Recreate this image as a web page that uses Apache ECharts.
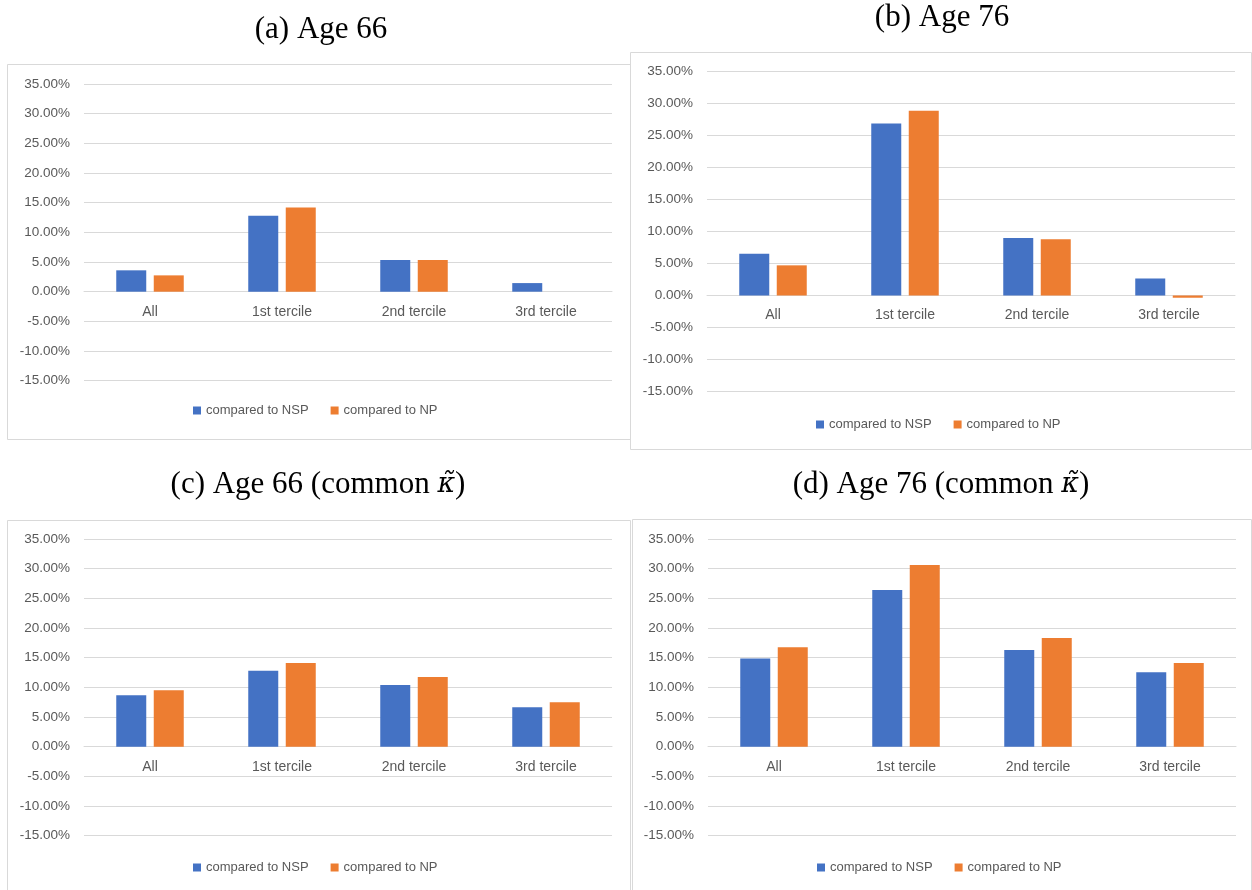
<!DOCTYPE html>
<html>
<head>
<meta charset="utf-8">
<script src="https://cdn.jsdelivr.net/npm/echarts@6/dist/echarts.min.js"></script>
<style>
html,body{margin:0;padding:0;background:#fff;}
#c{width:1252px;height:890px;}
</style>
</head>
<body>
<div id="c"></div>
<script>
// ---- data ----
var categories = ['All', '1st tercile', '2nd tercile', '3rd tercile'];
var seriesNames = ['compared to NSP', 'compared to NP'];
var yTicks = [-15, -10, -5, 0, 5, 10, 15, 20, 25, 30, 35];

var a_nsp = [3.6, 12.8, 5.35, 1.45];
var a_np  = [2.75, 14.2, 5.35, 0];
var b_nsp = [6.5, 26.8, 8.95, 2.65];
var b_np  = [4.7, 28.8, 8.75, -0.35];
var c_nsp = [8.65, 12.8, 10.4, 6.65];
var c_np  = [9.5, 14.1, 11.75, 7.5];
var d_nsp = [14.85, 26.4, 16.3, 12.55];
var d_np  = [16.75, 30.6, 18.3, 14.1];

var titles = ['(a) Age 66', '(b) Age 76', '(c) Age 66 (common {k|κ̃})', '(d) Age 76 (common {k|κ̃})'];

// ---- layout (styling only) ----
var panels = [
  {grid:{left:84,  top:84,  width:528, height:296.7}, title:{x:321, y:30},  legend:{x:193, y:411}, box:{x:7,   y:64,  w:623, h:375}, nsp:a_nsp, np:a_np},
  {grid:{left:707, top:71,  width:528, height:320.7}, title:{x:942, y:18},  legend:{x:816, y:425}, box:{x:630, y:52,  w:621, h:397}, nsp:b_nsp, np:b_np},
  {grid:{left:84,  top:539, width:528, height:296.7}, title:{x:318, y:485}, legend:{x:193, y:868}, box:{x:7,   y:520, w:623, h:380}, nsp:c_nsp, np:c_np},
  {grid:{left:708, top:539, width:528, height:296.7}, title:{x:941, y:485}, legend:{x:817, y:868}, box:{x:632, y:519, w:619, h:380}, nsp:d_nsp, np:d_np}
];

var BLUE = '#4472C4', ORANGE = '#ED7D31', TXT = '#595959', GRID = '#d9d9d9';
var font = 'Liberation Sans, Arial, sans-serif';
var yMin = yTicks[0], yMax = yTicks[yTicks.length - 1];

var option = {
  animation: false,
  backgroundColor: '#fff',
  color: [BLUE, ORANGE],
  title: [], grid: [], xAxis: [], yAxis: [], legend: [], series: [], graphic: []
};

panels.forEach(function (p, i) {
  option.title.push({
    text: titles[i],
    left: p.title.x, top: p.title.y,
    textAlign: 'center', textVerticalAlign: 'middle',
    padding: 0,
    textStyle: {
      fontFamily: 'Liberation Serif, Times New Roman, serif',
      fontSize: 31, fontWeight: 'normal', color: '#000',
      rich: {k: {fontFamily: 'DejaVu Serif, serif', fontSize: 27, fontStyle: 'italic', color: '#000'}}
    }
  });
  option.grid.push({left: p.grid.left, top: p.grid.top, width: p.grid.width, height: p.grid.height, containLabel: false});
  // place the category axis (line + labels) on the zero value of the y axis
  var zeroOffset = -p.grid.height * (0 - yMin) / (yMax - yMin);
  option.xAxis.push({
    type: 'category', gridIndex: i, data: categories,
    position: 'bottom', offset: zeroOffset,
    axisLine: {show: true, onZero: false, lineStyle: {color: GRID, width: 1}},
    axisTick: {show: false},
    axisLabel: {color: TXT, fontSize: 14, fontFamily: font, margin: 13},
    splitLine: {show: false}
  });
  option.yAxis.push({
    type: 'value', gridIndex: i,
    min: yMin, max: yMax, interval: 5,
    axisLine: {show: false}, axisTick: {show: false},
    axisLabel: {color: TXT, fontSize: 13.5, fontFamily: font, margin: 14,
      formatter: function (v) { return v.toFixed(2) + '%'; }},
    splitLine: {show: true, lineStyle: {color: GRID, width: 1}}
  });
  option.legend.push({
    data: seriesNames,
    left: p.legend.x, top: p.legend.y - 7,
    icon: 'rect', itemWidth: 8, itemHeight: 8, itemGap: 22,
    padding: 0,
    textStyle: {color: TXT, fontSize: 13, fontFamily: font}
  });
  option.series.push({
    name: seriesNames[0], type: 'bar', xAxisIndex: i, yAxisIndex: i,
    data: p.nsp, barWidth: 30, barGap: '25%',
    itemStyle: {color: BLUE}
  });
  option.series.push({
    name: seriesNames[1], type: 'bar', xAxisIndex: i, yAxisIndex: i,
    data: p.np, barWidth: 30, barGap: '25%',
    itemStyle: {color: ORANGE}
  });
  option.graphic.push({
    type: 'rect', silent: true, z: -1,
    shape: {x: p.box.x + 0.5, y: p.box.y + 0.5, width: p.box.w, height: p.box.h},
    style: {fill: 'none', stroke: GRID, lineWidth: 1}
  });
});

var chart = echarts.init(document.getElementById('c'), null, {renderer: 'canvas'});
chart.setOption(option);
</script>
</body>
</html>
